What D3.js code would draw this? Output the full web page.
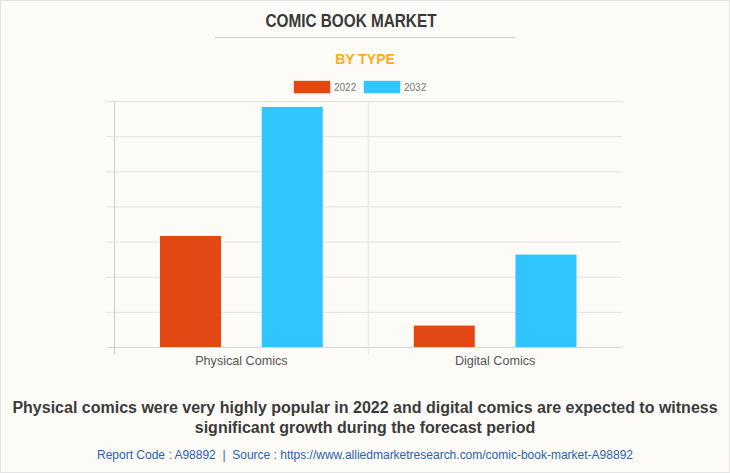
<!DOCTYPE html>
<html>
<head>
<meta charset="utf-8">
<script src="https://cdn.jsdelivr.net/npm/d3@7"></script>
<style>
  html, body { margin: 0; padding: 0; background: #fcfbf7; }
  svg { display: block; font-family: "Liberation Sans", Arial, sans-serif; }
</style>
</head>
<body>
<div id="chart"></div>
<script>
// datos
const categories = ["Physical Comics", "Digital Comics"];
const years = ["2022", "2032"];
const values2022 = [3.16, 0.61];
const values2032 = [6.83, 2.63];
const yTicks = [0, 1, 2, 3, 4, 5, 6, 7];
const colors = ["#e24813", "#30c5ff"];

const width = 730;
const height = 473;
const margin = { top: 101, right: 108, bottom: 126, left: 114.5 };

const SVG = d3.select("#chart").append("svg")
    .attr("width", width)
    .attr("height", height);

// borde de la imagen
SVG.append("rect")
    .attr("x", 0.5).attr("y", 0.5)
    .attr("width", width - 1).attr("height", height - 1)
    .attr("fill", "#fcfbf7")
    .attr("stroke", "#e4e4e4");

// titulos
SVG.append("text")
    .attr("x", 351).attr("y", 27)
    .attr("text-anchor", "middle")
    .attr("textLength", 171)
    .attr("lengthAdjust", "spacingAndGlyphs")
    .style("font", "bold 17.5px 'Liberation Sans'")
    .attr("fill", "#383838")
    .text("COMIC BOOK MARKET");

SVG.append("line")
    .attr("x1", 215).attr("x2", 515)
    .attr("y1", 37.5).attr("y2", 37.5)
    .attr("stroke", "#cfcfcb");

SVG.append("text")
    .attr("x", 365).attr("y", 64)
    .attr("text-anchor", "middle")
    .style("font", "bold 14px 'Liberation Sans'")
    .attr("fill", "#ffaa1d")
    .text("BY TYPE");

// escalas
const x0 = d3.scaleBand()
    .domain(categories)
    .range([margin.left, width - margin.right]);

const x1 = d3.scaleBand()
    .domain(years)
    .range([0, x0.bandwidth()])
    .paddingInner(0.4)
    .paddingOuter(0.4475);

const y = d3.scaleLinear()
    .domain([0, 7])
    .range([height - margin.bottom, margin.top]);

// lineas de la grilla
const grid = d3.axisLeft(y)
    .tickValues(yTicks)
    .tickSize(-(width - margin.right - margin.left))
    .tickSizeOuter(0)
    .tickFormat("");

const gridG = SVG.append("g")
    .attr("transform", `translate(${margin.left},0)`)
    .call(grid);
gridG.select(".domain").remove();
gridG.selectAll(".tick line")
    .attr("x1", -8)
    .attr("stroke", "#e3e2de");
gridG.selectAll(".tick").filter(d => d === 0).select("line")
    .attr("stroke", "#d6d5d1");

// lineas verticales
const vLines = [margin.left, x0(categories[1])];
SVG.append("g").selectAll("line")
    .data(vLines)
    .join("line")
    .attr("x1", d => d).attr("x2", d => d)
    .attr("y1", margin.top)
    .attr("y2", height - margin.bottom + 7)
    .attr("stroke", (d, i) => i === 0 ? "#d0cfcb" : "#e6e5e1");

// barras
const series = [values2022, values2032];
years.forEach((year, s) => {
    SVG.append("g").selectAll("rect")
        .data(series[s])
        .join("rect")
        .attr("x", (d, i) => x0(categories[i]) + x1(year))
        .attr("y", d => y(d))
        .attr("width", x1.bandwidth())
        .attr("height", d => y(0) - y(d))
        .attr("fill", colors[s]);
});

// etiquetas del eje x
SVG.append("g").selectAll("text")
    .data(categories)
    .join("text")
    .attr("x", d => x0(d) + x0.bandwidth() / 2)
    .attr("y", 365)
    .attr("text-anchor", "middle")
    .style("font", "12.6px 'Liberation Sans'")
    .attr("fill", "#555555")
    .text(d => d);

// leyenda
const legendX = d3.scaleOrdinal().domain(years).range([294, 364]);
const legend = SVG.append("g").selectAll("g")
    .data(years)
    .join("g")
    .attr("transform", d => `translate(${legendX(d)},81)`);
legend.append("rect")
    .attr("width", 36).attr("height", 12)
    .attr("fill", (d, i) => colors[i])
    .attr("stroke", (d, i) => colors[i])
    .attr("stroke-opacity", 0.4);
legend.append("text")
    .attr("x", 40).attr("y", 9.5)
    .style("font", "10px 'Liberation Sans'")
    .attr("fill", "#777777")
    .text(d => d);

// texto inferior
const caption = [
    "Physical comics were very highly popular in 2022 and digital comics are expected to witness",
    "significant growth during the forecast period"
];
SVG.append("g").selectAll("text")
    .data(caption)
    .join("text")
    .attr("x", 365)
    .attr("y", (d, i) => 413 + i * 20)
    .attr("text-anchor", "middle")
    .style("font", "bold 16px 'Liberation Sans'")
    .attr("fill", "#3b3b3b")
    .text(d => d);

SVG.append("text")
    .attr("x", 365).attr("y", 459)
    .attr("text-anchor", "middle")
    .attr("textLength", 536)
    .style("font", "12px 'Liberation Sans'")
    .style("white-space", "pre")
    .attr("fill", "#2a62ae")
    .text("Report Code : A98892  |  Source : https://www.alliedmarketresearch.com/comic-book-market-A98892");
</script>
</body>
</html>
